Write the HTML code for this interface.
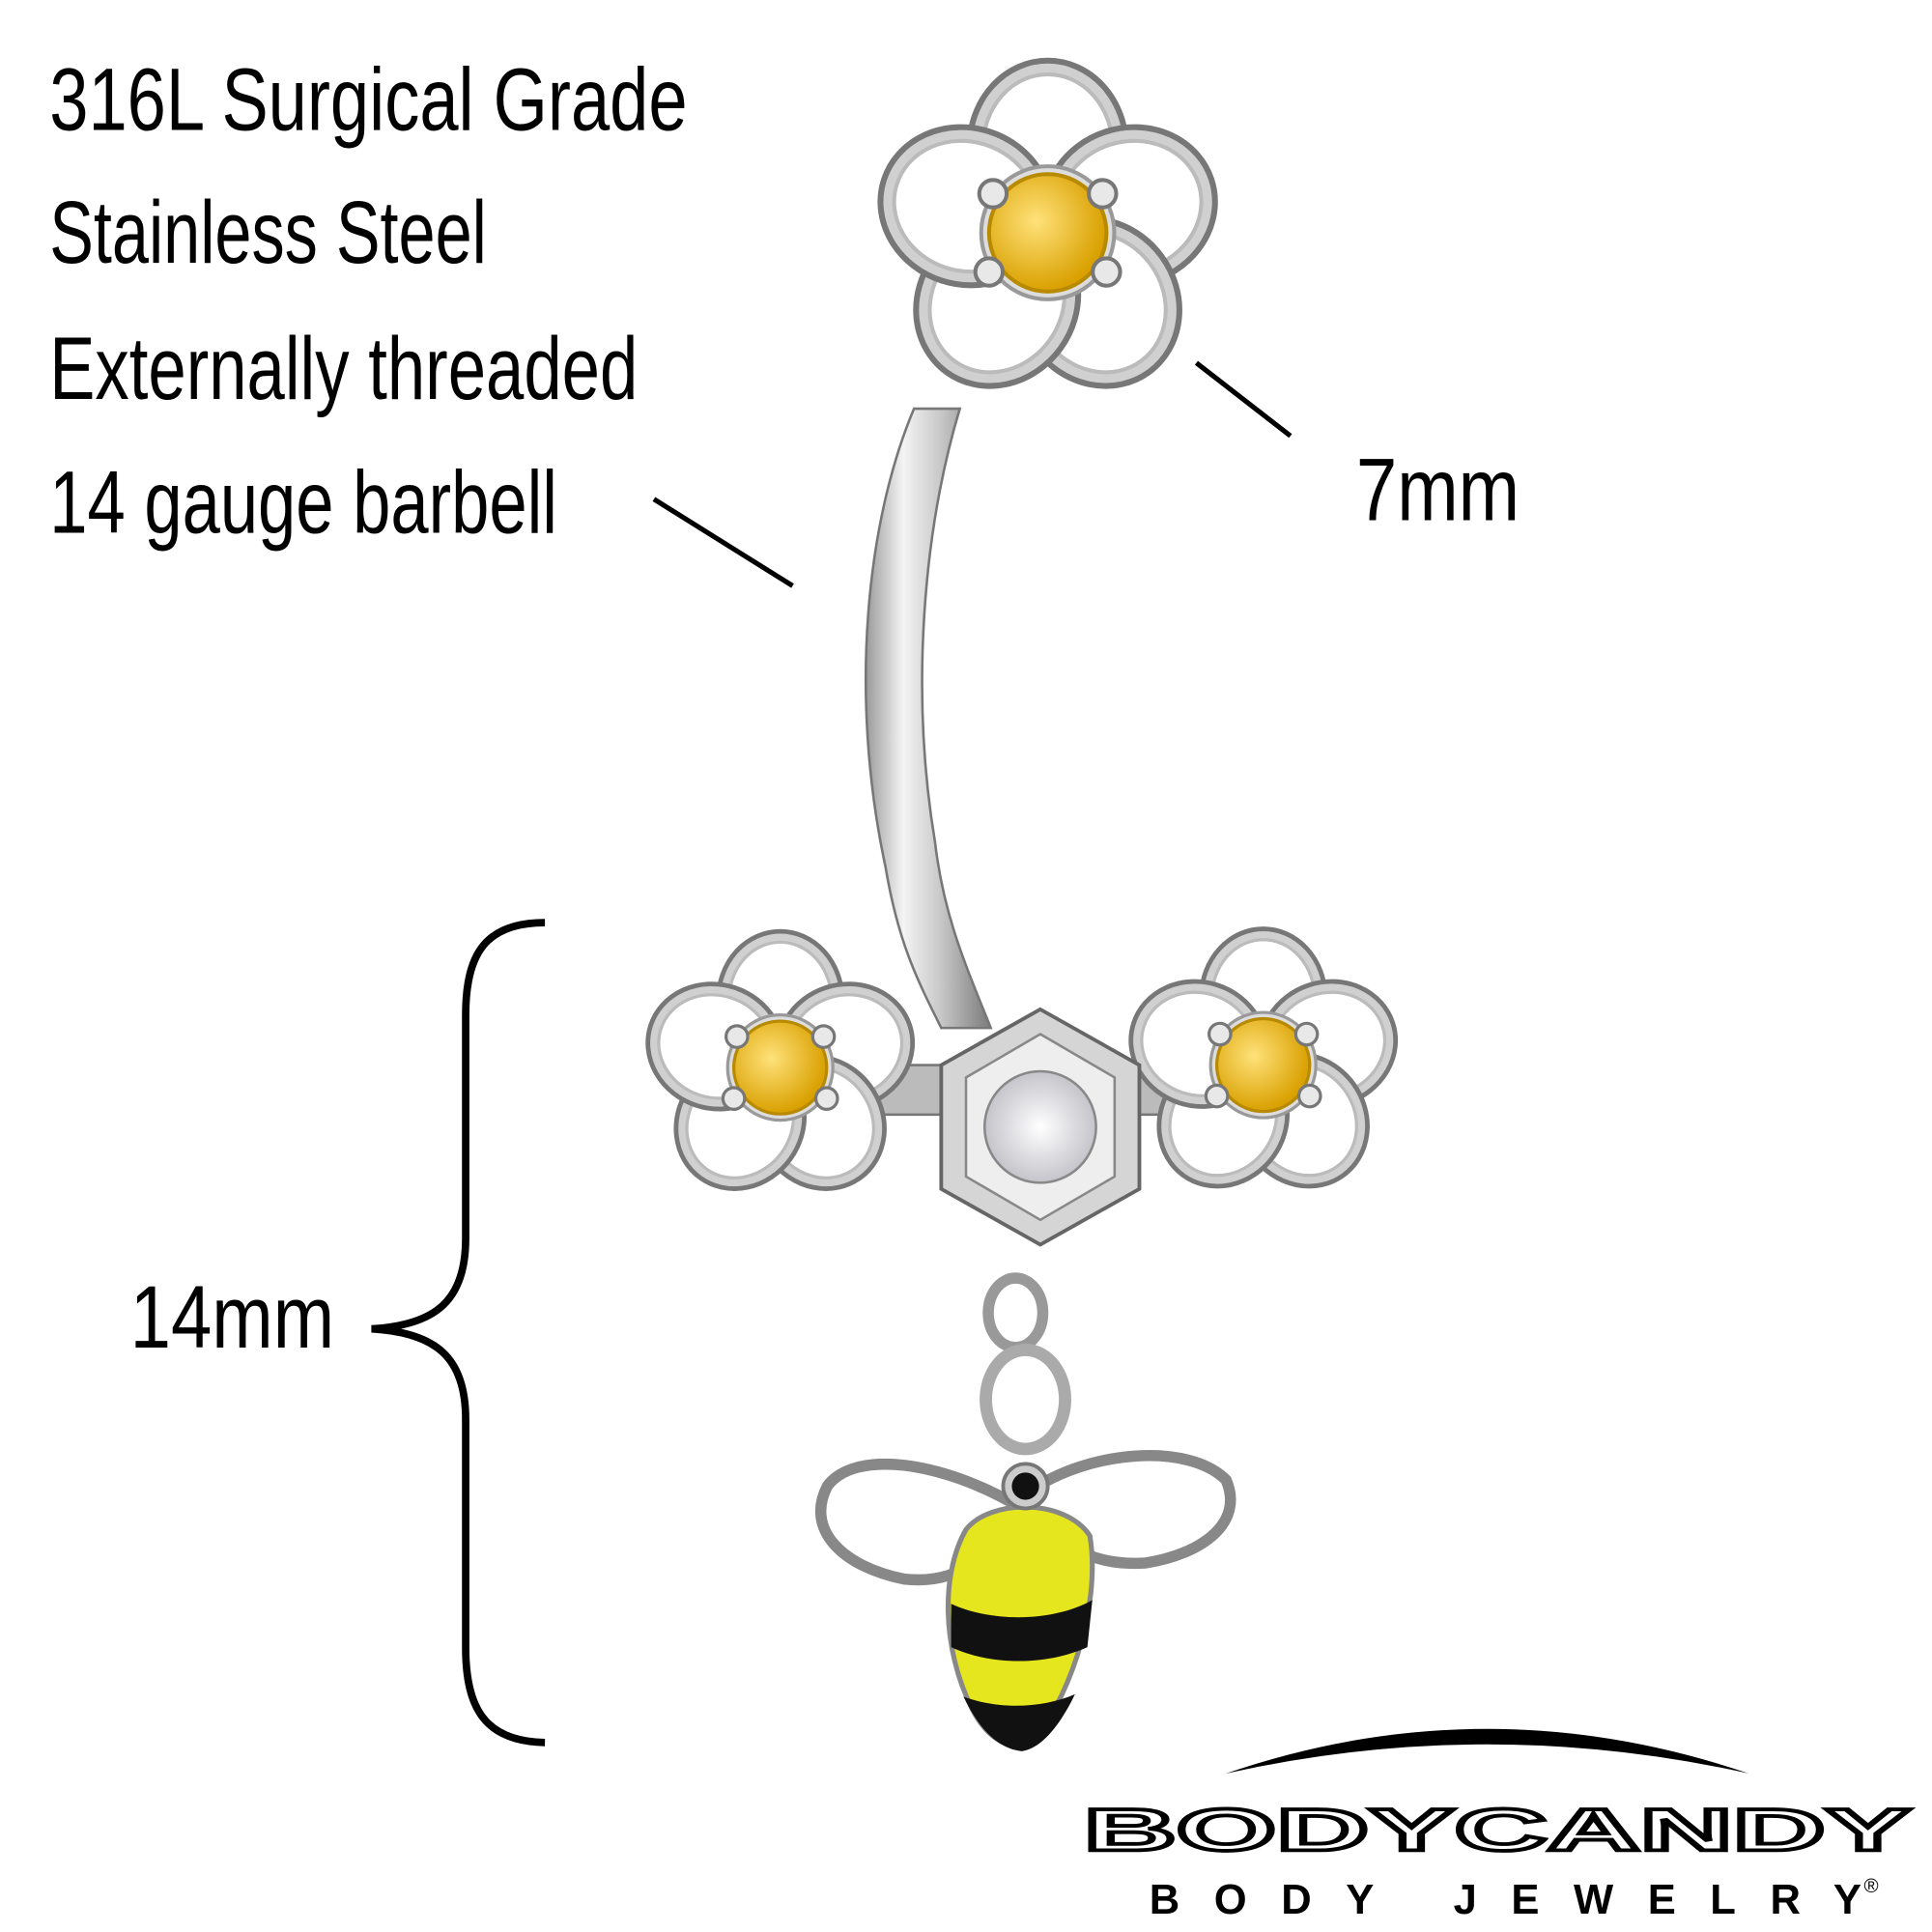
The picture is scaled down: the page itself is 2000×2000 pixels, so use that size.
<!DOCTYPE html>
<html><head><meta charset="utf-8"><style>html,body{margin:0;padding:0;background:#fff}svg{display:block}</style></head>
<body>
<svg width="2000" height="2000" viewBox="0 0 1560 1560" xmlns="http://www.w3.org/2000/svg">
<defs>
<linearGradient id="bar" x1="0" x2="1" y1="0" y2="0">
<stop offset="0" stop-color="#9a9a9a"/><stop offset="0.3" stop-color="#f4f4f4"/><stop offset="0.6" stop-color="#c8c8c8"/><stop offset="1" stop-color="#7a7a7a"/>
</linearGradient>
<radialGradient id="gem" cx="0.4" cy="0.4" r="0.6"><stop offset="0" stop-color="#ffe27a"/><stop offset="1" stop-color="#d9a000"/></radialGradient>
<radialGradient id="cz" cx="0.5" cy="0.5" r="0.6"><stop offset="0" stop-color="#ffffff"/><stop offset="1" stop-color="#b8b8c0"/></radialGradient>
<g id="petal"><ellipse cx="0" cy="-44" rx="40" ry="44" fill="#d0d0d0" stroke="#777" stroke-width="3"/><ellipse cx="0" cy="-44" rx="33" ry="37" fill="#fff" stroke="#bbb" stroke-width="2"/></g>
<g id="flower">
<use href="#petal"/><use href="#petal" transform="rotate(72)"/><use href="#petal" transform="rotate(144)"/><use href="#petal" transform="rotate(216)"/><use href="#petal" transform="rotate(288)"/>
<circle r="34" fill="#ddd" stroke="#999" stroke-width="2"/>
<circle r="30" fill="url(#gem)" stroke="#b88a00" stroke-width="2"/>
<g fill="#e8e8e8" stroke="#777" stroke-width="2"><circle cx="28" cy="-20" r="7"/><circle cx="-28" cy="-20" r="7"/><circle cx="30" cy="20" r="7"/><circle cx="-30" cy="20" r="7"/></g>
</g>
</defs>
<rect width="1560" height="1560" fill="#fff"/>
<g font-family="'Liberation Sans Narrow','Liberation Sans',sans-serif" font-size="72" fill="#000">
<text x="40" y="105" textLength="515" lengthAdjust="spacingAndGlyphs">316L Surgical Grade</text>
<text x="40" y="212" textLength="353" lengthAdjust="spacingAndGlyphs">Stainless Steel</text>
<text x="40" y="322" textLength="475" lengthAdjust="spacingAndGlyphs">Externally threaded</text>
<text x="40" y="430" textLength="410" lengthAdjust="spacingAndGlyphs">14 gauge barbell</text>
<text x="1095" y="420" textLength="132" lengthAdjust="spacingAndGlyphs">7mm</text>
<text x="105" y="1088" textLength="165" lengthAdjust="spacingAndGlyphs">14mm</text>
</g>
<g stroke="#000" stroke-width="4" fill="none">
<line x1="528" y1="403" x2="640" y2="473"/>
<line x1="966" y1="293" x2="1042" y2="352"/>
<path d="M440,745 C392,745 376,770 376,820 L376,1000 C376,1050 352,1070 300,1073 C352,1076 376,1096 376,1146 L376,1330 C376,1380 392,1406 440,1407" stroke-width="6"/>
</g>
<path d="M738,330 C700,420 685,560 715,700 C725,760 740,790 760,830 L800,830 C780,780 762,740 755,680 C735,560 745,430 775,330 Z" fill="url(#bar)" stroke="#777" stroke-width="2"/>
<use href="#flower" transform="translate(846,188) scale(1.58)"/>
<rect x="690" y="860" width="280" height="40" fill="#bbb" stroke="#777" stroke-width="2"/>
<use href="#flower" transform="translate(630,862) scale(1.25)"/>
<use href="#flower" transform="translate(1020,860) scale(1.25)"/>
<polygon points="840,815 920,860 920,960 840,1005 760,960 760,860" fill="#d5d5d5" stroke="#666" stroke-width="3"/>
<polygon points="840,835 900,870 900,950 840,985 780,950 780,870" fill="#eee" stroke="#888" stroke-width="2"/>
<circle cx="840" cy="910" r="45" fill="url(#cz)" stroke="#888" stroke-width="2"/>
<ellipse cx="820" cy="1060" rx="22" ry="28" fill="none" stroke="#999" stroke-width="9"/>
<ellipse cx="828" cy="1130" rx="32" ry="40" fill="none" stroke="#aaa" stroke-width="10"/>
<path d="M820,1215 C760,1180 690,1170 668,1200 C650,1235 680,1265 730,1275 C775,1280 805,1255 820,1215 Z" fill="#fff" stroke="#888" stroke-width="9"/>
<path d="M830,1205 C880,1170 960,1165 990,1195 C1005,1230 970,1255 925,1262 C880,1265 845,1245 830,1205 Z" fill="#fff" stroke="#888" stroke-width="9"/>
<path d="M780,1235 C800,1210 860,1210 880,1240 C890,1300 860,1380 830,1410 C810,1412 795,1400 785,1380 C760,1330 760,1270 780,1235 Z" fill="#e6e61e" stroke="#888" stroke-width="4"/>
<path d="M768,1295 C800,1310 850,1310 882,1292 L878,1330 C845,1345 800,1345 768,1330 Z" fill="#111"/>
<path d="M778,1370 C805,1380 840,1380 868,1368 C855,1395 840,1412 825,1414 C805,1412 790,1395 778,1370 Z" fill="#111"/>
<circle cx="828" cy="1200" r="18" fill="#ccc" stroke="#777" stroke-width="3"/>
<circle cx="828" cy="1200" r="11" fill="#111"/>
<path d="M990,1432 Q1200,1360 1412,1432 Q1200,1385 990,1432 Z" fill="#000"/>
<text x="875" y="1494" font-family="'Liberation Sans',sans-serif" font-size="48" font-weight="bold" fill="none" stroke="#000" stroke-width="3" textLength="668" lengthAdjust="spacingAndGlyphs">BODYCANDY</text>
<text x="928" y="1545" font-family="'Liberation Sans',sans-serif" font-size="34" font-weight="bold" fill="#000" textLength="575" lengthAdjust="spacing">BODY JEWELRY</text>
<text x="1505" y="1528" font-family="'Liberation Sans',sans-serif" font-size="16" fill="#000">®</text>
</svg>
</body></html>
